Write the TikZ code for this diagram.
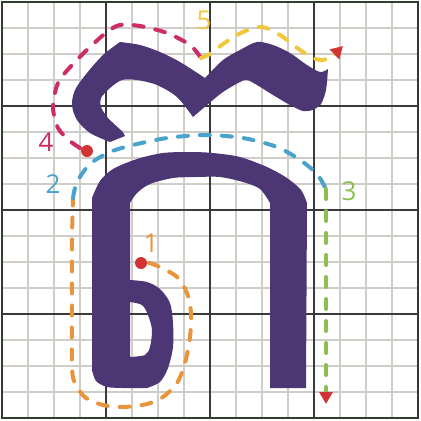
\documentclass[tikz,border=0pt]{standalone}
\usepackage{fontspec}
\setsansfont{Open Sans}
\usetikzlibrary{arrows.meta}

\definecolor{glyphpurple}{HTML}{4C3673}
\definecolor{gridgrey}{HTML}{CFCDC8}
\definecolor{gridmajor}{HTML}{3A3A3A}
\definecolor{framegreen}{HTML}{2E3D30}
\definecolor{dotred}{HTML}{D23433}
\definecolor{orangeone}{HTML}{E8943A}
\definecolor{bluetwo}{HTML}{4AA3CC}
\definecolor{greenthree}{HTML}{8CBE50}
\definecolor{crimsonfour}{HTML}{CC2D64}
\definecolor{yellowfive}{HTML}{F0C83C}

\begin{document}
\begin{tikzpicture}[x=1pt, y=-1pt,
    minorline/.style={draw=gridgrey, line width=1.5pt},
    majorline/.style={draw=gridmajor, line width=1.4pt},
    guide/.style={line width=4pt, line cap=round, dash pattern=on 10pt off 12pt},
    numlabel/.style={font=\sffamily\fontsize{26}{26}\selectfont, inner sep=0pt},
    redtip/.style={-{Triangle[length=12pt, width=13pt, color=dotred]}}
]
    \useasboundingbox (0,0) rectangle (421,421);

    % grid
    \foreach \k in {1,...,15} {
        \draw[minorline] ({2+26*\k},2) -- ({2+26*\k},418);
        \draw[minorline] (2,{2+26*\k}) -- (418,{2+26*\k});
    }
    \foreach \k in {4,8,12} {
        \draw[majorline] ({2+26*\k},2) -- ({2+26*\k},418);
        \draw[majorline] (2,{2+26*\k}) -- (418,{2+26*\k});
    }
    \draw[draw=framegreen, line width=2.5pt] (2,2) rectangle (418,418);

    % letter body
    \fill[glyphpurple, even odd rule]
        (130,280) -- (130,203)
        -- plot[smooth] coordinates {(130,203) (137,193) (150,184) (173,178) (197,177) (220,177) (243,182) (260,189) (270,203)}
        -- (270,388) -- (306,388) -- (307,203)
        -- plot[smooth] coordinates {(307,203) (301,190) (287,178) (267,167) (240,157) (213,153) (190,152) (163,153) (137,159) (113,169) (100,181) (92,198)}
        -- (92,370)
        -- plot[smooth] coordinates {(92,370) (96,381) (107,387) (123,388)}
        -- (147,388)
        -- plot[smooth] coordinates {(147,388) (160,382) (168,368) (173,347) (173,323) (170,303) (160,289) (147,282) (130,280)}
        -- cycle
        (130,302)
        -- plot[smooth] coordinates {(130,302) (142,305) (148,315) (152,330) (150,347) (145,355) (130,357)}
        -- cycle;

    % sign on top
    \fill[glyphpurple]
        (120,42)
        -- plot[smooth] coordinates {(120,42) (140,45) (160,52) (180,62) (205,78)}
        -- plot[smooth] coordinates {(205,78) (223,60) (240,50) (257,42) (273,45) (290,53) (307,65) (320,72) (328,69)}
        -- plot[smooth] coordinates {(328,69) (326,90) (321,104) (313,110)}
        -- plot[smooth] coordinates {(313,110) (303,111) (290,105) (273,95) (257,85) (247,80) (240,82) (223,92) (207,105) (193,117)}
        -- plot[smooth] coordinates {(193,117) (177,97) (157,85) (137,80) (122,80) (110,88) (101,98) (101,107) (108,118) (123,132)}
        -- (125,136) -- (110,142)
        -- plot[smooth] coordinates {(110,142) (90,133) (77,120) (72,105) (75,90) (87,73) (103,55) (120,42)}
        -- cycle;

    \coordinate (start1) at (141,263);
    \coordinate (turn12) at (73,198);
    \coordinate (turn23) at (326,189);
    \coordinate (end3) at (326,404);
    \coordinate (start4) at (87,151);
    \coordinate (turn45) at (201,58);
    \coordinate (end5) at (343,46);

    % stroke guides
    \draw[guide, orangeone]
        plot[smooth] coordinates {(149,263) (160,267) (177,277) (187,293) (191,313) (190,337) (185,363) (177,383) (163,397) (147,404) (123,407) (103,405) (86,398) (76,385) (72,368) (72,300) (72,240) (turn12)};
    \draw[guide, bluetwo]
        plot[smooth] coordinates {(turn12) (77,182) (90,164) (110,152) (133,145) (167,138) (205,135) (243,138) (277,147) (300,160) (317,174) (turn23)};
    \draw[guide, greenthree, redtip] (turn23) -- (end3);
    \draw[guide, crimsonfour]
        plot[smooth] coordinates {(80,148) (70,141) (58,128) (53,107) (58,83) (72,65) (90,47) (107,32) (120,25) (140,26) (167,33) (190,45) (turn45)};
    \draw[guide, yellowfive, redtip]
        plot[smooth] coordinates {(turn45) (212,53) (223,44) (243,32) (262,27) (280,35) (300,50) (313,58) (323,60) (333,55) (end5)};

    \fill[dotred] (start1) circle (6pt);
    \fill[dotred] (start4) circle (6pt);

    % numbers
    \node[numlabel, text=orangeone] (num1) at (151,243) {1};
    \node[numlabel, text=bluetwo] (num2) at (53,184) {2};
    \node[numlabel, text=greenthree] (num3) at (349,191) {3};
    \node[numlabel, text=crimsonfour] (num4) at (46,142) {4};
    \node[numlabel, text=yellowfive] (num5) at (204,20) {5};
\end{tikzpicture}
\end{document}
